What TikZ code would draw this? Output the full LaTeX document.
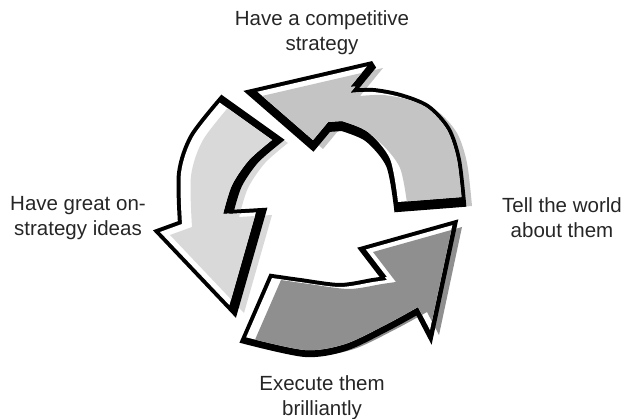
\documentclass[tikz,border=0pt]{standalone}
\usepackage{fontspec}
\setmainfont{Liberation Sans}
\usetikzlibrary{positioning}

\definecolor{topface}{gray}{0.77}
\definecolor{leftface}{gray}{0.85}
\definecolor{bottomface}{gray}{0.56}

% outlines of the three arrows (pixel coordinates, y down)
\newcommand\toparrowpath{(252,93) -- (373,65) -- (350,93)
  -- plot[smooth] coordinates {(350,93) (373,92) (400,97) (427,108) (447,130) (457,160) (462,203)}
  -- (398,208)
  -- plot[smooth] coordinates {(398,208) (390,165) (368,138) (342,127)}
  -- (328,128) -- (313,146) -- cycle}
\newcommand\leftarrowpath{(222,100) -- (278,140)
  -- plot[smooth] coordinates {(278,140) (255,160) (238,185) (229,214)}
  -- (262,212) -- (234,310) -- (160,232) -- (182,224)
  -- plot[smooth] coordinates {(182,224) (181,173) (193,137) (222,100)}
  -- cycle}
\newcommand\bottomarrowpath{(272,278)
  -- plot[smooth] coordinates {(272,278) (300,282) (340,287) (373,282) (387,280)}
  -- (364,250) -- (453,225) -- (430,333) -- (418,310)
  -- plot[smooth] coordinates {(418,310) (387,327) (345,347) (305,353) (245,340)}
  -- cycle}

\tikzset{
  lbl/.style={font=\fontsize{20.5}{25}\selectfont, align=center, inner sep=0pt, text=black!85},
  frame/.style={black, line width=8pt, miter limit=3},
}

\begin{document}
\begin{tikzpicture}[x=1pt, y=-1pt, line join=miter]
\useasboundingbox (0,0) rectangle (626,419);

% Faces, pushed to the right of the outlines
\fill[topface, shift={(10,3)}] \toparrowpath;
\fill[leftface, shift={(10,3)}] \leftarrowpath;
\fill[bottomface, shift={(9,2)}] \bottomarrowpath;

% Top arrow
\filldraw[frame] \toparrowpath;
\begin{scope}
  \clip \toparrowpath;
  \clip[shift={(0,-6)}] \toparrowpath;
  \fill[white] (0,0) rectangle (626,419);
  \fill[topface, shift={(10,3)}] \toparrowpath;
\end{scope}

% Left arrow
\filldraw[frame] \leftarrowpath;
\begin{scope}
  \clip \leftarrowpath;
  \clip[shift={(-6,0)}] \leftarrowpath;
  \fill[white] (0,0) rectangle (626,419);
  \fill[leftface, shift={(10,3)}] \leftarrowpath;
\end{scope}

% Bottom arrow
\filldraw[frame] \bottomarrowpath;
\begin{scope}
  \clip \bottomarrowpath;
  \clip[shift={(0,-3)}] \bottomarrowpath;
  \fill[white] (0,0) rectangle (626,419);
  \fill[bottomface, shift={(9,2)}] \bottomarrowpath;
\end{scope}

% Labels
\node[lbl] (strategy) at (322,33) {Have a competitive\\strategy};
\node[lbl] (ideas) at (78,218) {Have great on-\\strategy ideas};
\node[lbl] (tell) at (562,218) {Tell the world\\about them};
\node[lbl] (execute) at (322,398) {Execute them\\brilliantly};
\end{tikzpicture}
\end{document}
